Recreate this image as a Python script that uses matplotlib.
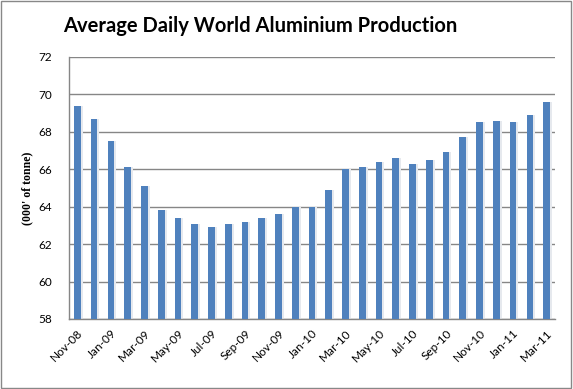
import numpy as np
import matplotlib.pyplot as plt
from matplotlib.patches import Rectangle

# -----------------------------
# Data (000' tonne per day)
# -----------------------------
months = ["Nov-08", "Dec-08", "Jan-09", "Feb-09", "Mar-09", "Apr-09", "May-09", "Jun-09",
          "Jul-09", "Aug-09", "Sep-09", "Oct-09", "Nov-09", "Dec-09", "Jan-10", "Feb-10",
          "Mar-10", "Apr-10", "May-10", "Jun-10", "Jul-10", "Aug-10", "Sep-10", "Oct-10",
          "Nov-10", "Dec-10", "Jan-11", "Feb-11", "Mar-11"]
production = [69.4, 68.7, 67.5, 66.1, 65.1, 63.8, 63.4, 63.1, 62.9, 63.1, 63.2, 63.4, 63.6,
              64.0, 64.0, 64.9, 66.0, 66.1, 66.4, 66.6, 66.3, 66.5, 66.9, 67.7, 68.5, 68.6,
              68.5, 68.9, 69.6]
y_ticks = [58, 60, 62, 64, 66, 68, 70, 72]

BAR_COLOR = "#4F81BD"
GRID_COLOR = "#868686"

fig = plt.figure(figsize=(5.73, 3.89), dpi=100)
fig.patch.set_facecolor("white")
# outer chart border
fig.add_artist(Rectangle((0.002, 0.003), 0.995, 0.994, transform=fig.transFigure,
                         fill=False, edgecolor="#888888", linewidth=1.0))

ax = fig.add_axes([0.1204, 0.180, 0.8482, 0.6735])
x = np.arange(len(months))
width = 0.40

# soft shadow to the right of each bar
ax.bar(x + 0.12, np.array(production) - 58, width=width, bottom=58,
       color="#e6e9ee", zorder=2)
ax.bar(x, np.array(production) - 58, width=width, bottom=58,
       color=BAR_COLOR, zorder=3)

ax.set_xlim(-0.5, len(months) - 0.5)
ax.set_ylim(58, 72)
ax.set_yticks(y_ticks)
ax.set_yticklabels([str(v) for v in y_ticks], fontsize=8.5, family="Lato")
ax.yaxis.grid(True, color=GRID_COLOR, linewidth=1.0, zorder=0)
ax.set_axisbelow(True)
ax.tick_params(axis="y", length=0, pad=12)

ax.set_xticks(x[::2])
ax.set_xticklabels(months[::2], rotation=45, ha="right", rotation_mode="anchor",
                   fontsize=8.5, family="Lato")
ax.tick_params(axis="x", length=0, pad=6)

for side in ["top", "right"]:
    ax.spines[side].set_visible(False)
for side in ["left", "bottom"]:
    ax.spines[side].set_color(GRID_COLOR)
    ax.spines[side].set_linewidth(1.0)

ax.set_ylabel("(000' of tonne)", family="Liberation Serif", fontweight="bold",
              fontsize=8.5, labelpad=4)

fig.text(0.455, 0.932, "Average Daily World Aluminium Production", ha="center", va="center",
         fontsize=14.5, fontweight="bold", family="Lato")

fig.savefig("out.png", dpi=100)
